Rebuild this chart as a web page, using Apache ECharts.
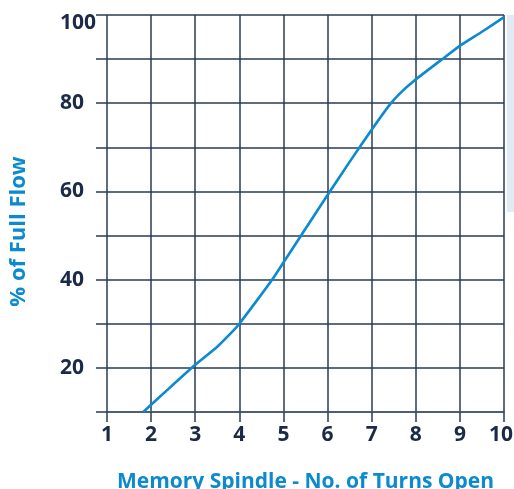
<!DOCTYPE html>
<html>
<head>
<meta charset="utf-8">
<script src="https://cdn.jsdelivr.net/npm/echarts@6/dist/echarts.min.js"></script>
<style>
html,body{margin:0;padding:0;background:#fff;}
#c{width:514px;height:489px;}
</style>
</head>
<body>
<div id="c"></div>
<script>
const turnsOpen = [1.82, 2.4, 3.0, 3.5, 3.88, 4.0, 4.4, 4.73, 5.0, 5.4, 6.0, 6.5, 7.0, 7.42, 7.7, 7.95, 8.55, 9.0, 9.5, 10.0];
const fullFlowPct = [10, 15.3, 20.7, 24.8, 28.6, 30, 35.3, 39.8, 43.9, 50, 59.2, 66.7, 74, 79.8, 82.8, 85, 89.6, 93, 96.2, 99.5];
const xTicks = [1, 2, 3, 4, 5, 6, 7, 8, 9, 10];
const yTickLabels = [20, 40, 60, 80, 100];
const xAxisTitle = 'Memory Spindle - No. of Turns Open';
const yAxisTitle = '% of Full Flow';

const lineCol = '#2a3a55';
const labelCol = '#1b2a47';
const blue = '#0b8ad0';
const tickFont = { color: labelCol, fontFamily: 'Open Sans', fontWeight: 'bold', fontSize: 21 };

const chart = echarts.init(document.getElementById('c'));
chart.setOption({
  animation: false,
  grid: { left: 107, right: 10, top: 15, bottom: 77, containLabel: false, outerBoundsMode: 'none' },
  graphic: [{
    type: 'rect', shape: { x: 507, y: 15, width: 7, height: 197 },
    style: { fill: '#e2eaf5' }, silent: true
  }],
  xAxis: {
    type: 'value', min: xTicks[0], max: xTicks[xTicks.length - 1], interval: 1,
    name: xAxisTitle, nameLocation: 'middle', nameGap: 60,
    nameTextStyle: { color: blue, fontFamily: 'Open Sans', fontWeight: 'bold', fontSize: 21 },
    axisLine: { show: true, lineStyle: { color: '#4b5b76', width: 1.5 } },
    axisTick: { show: true, length: 10, lineStyle: { color: lineCol, width: 1.5 } },
    splitLine: { show: true, lineStyle: { color: lineCol, width: 1.5 } },
    axisLabel: Object.assign({
      margin: 13,
      formatter: v => {
        if (!xTicks.includes(v)) return '';
        return v === xTicks[xTicks.length - 1] ? '{last|' + v + '}' : String(v);
      },
      rich: { last: Object.assign({ padding: [0, 6, 0, 0] }, tickFont) }
    }, tickFont)
  },
  yAxis: {
    type: 'value', min: 10, max: 100, interval: 10,
    name: yAxisTitle, nameLocation: 'middle', nameGap: 77, nameRotate: 90,
    nameTextStyle: { color: blue, fontFamily: 'Open Sans', fontWeight: 'bold', fontSize: 22, padding: [0, 36, 0, 0] },
    axisLine: { show: false },
    axisTick: { show: true, length: 11, lineStyle: { color: lineCol, width: 1.5 } },
    splitLine: { show: true, lineStyle: { color: lineCol, width: 1.5 } },
    axisLabel: Object.assign({
      margin: 47, align: 'left',
      formatter: v => {
        if (!yTickLabels.includes(v)) return '';
        return v === 100 ? '{top|100}' : String(v);
      },
      rich: { top: Object.assign({ padding: [16, 0, 0, 0] }, tickFont) }
    }, tickFont)
  },
  series: [{
    type: 'line',
    data: turnsOpen.map((x, i) => [x, fullFlowPct[i]]),
    showSymbol: false, symbol: 'none',
    smooth: 0.2,
    lineStyle: { color: blue, width: 2.6 },
    z: 5
  }]
});
</script>
</body>
</html>
